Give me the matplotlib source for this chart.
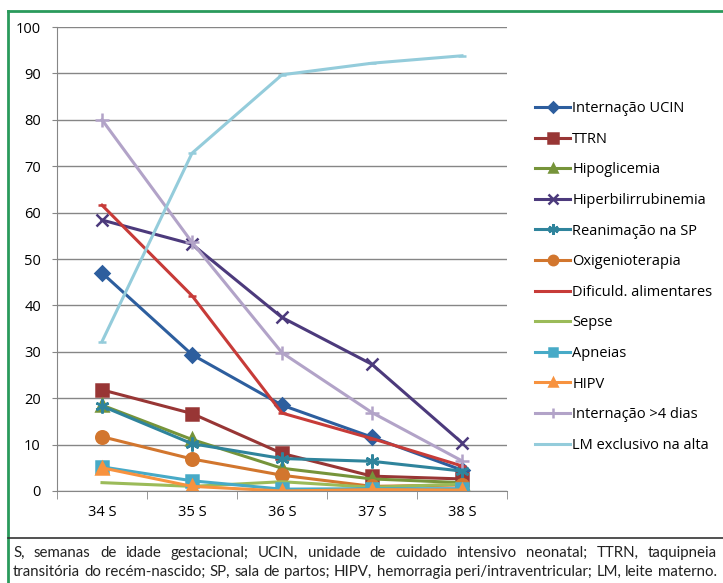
import matplotlib
matplotlib.use("Agg")
import matplotlib.pyplot as plt
from matplotlib.lines import Line2D

# Gestational weeks
weeks = ["34 S", "35 S", "36 S", "37 S", "38 S"]

internacao_ucin = [47.0, 29.4, 18.5, 11.6, 4.5]
ttrn = [21.8, 16.7, 8.1, 3.2, 2.6]
hipoglicemia = [18.5, 11.1, 4.9, 2.6, 1.8]
hiperbilirrubinemia = [58.4, 53.2, 37.4, 27.3, 10.4]
reanimacao_sp = [18.3, 10.2, 7.0, 6.4, 4.3]
oxigenioterapia = [11.7, 6.9, 3.4, 1.0, 1.3]
dificuld_alimentares = [61.6, 42.1, 16.8, 11.3, 5.4]
sepse = [1.8, 1.0, 2.0, 0.8, 1.5]
apneias = [5.2, 2.2, 0.4, 0.5, 0.5]
hipv = [5.0, 1.0, 0.0, 0.3, 0.2]
internacao_4dias = [80.0, 53.6, 29.8, 16.9, 6.5]
lm_exclusivo = [32.2, 72.8, 89.7, 92.2, 93.8]

series = [
    ("Internação UCIN", internacao_ucin, "#2D5E9E", "D", 7),
    ("TTRN", ttrn, "#983635", "s", 9),
    ("Hipoglicemia", hipoglicemia, "#76943A", "^", 8),
    ("Hiperbilirrubinemia", hiperbilirrubinemia, "#4C3A7C", "x", 9),
    ("Reanimação na SP", reanimacao_sp, "#2F849C", (6, 2, 0), 10),
    ("Oxigenioterapia", oxigenioterapia, "#D2762E", "o", 9),
    ("Dificuld. alimentares", dificuld_alimentares, "#C73B38", "_", 6),
    ("Sepse", sepse, "#9BBB59", None, 0),
    ("Apneias", apneias, "#47AAC7", "s", 8),
    ("HIPV", hipv, "#F7923F", "^", 8),
    ("Internação >4 dias", internacao_4dias, "#B2A3C8", "+", 10),
    ("LM exclusivo na alta", lm_exclusivo, "#94CCDB", "_", 6),
]

W, H = 723, 583
fig = plt.figure(figsize=(W / 100, H / 100), dpi=100)
ax = fig.add_axes([57 / W, 1 - 491 / H, 450 / W, 464 / H])

x = list(range(len(weeks)))
for name, vals, color, marker, ms in series:
    ax.plot(x, vals, color=color, lw=2.2, marker=marker, ms=ms,
            mec=color, mfc=color, mew=1.8, label=name)

ax.set_xlim(-0.5, 4.5)
ax.set_ylim(0, 100)
ax.set_yticks(range(0, 101, 10))
ax.set_xticks(x)
ax.set_xticklabels(weeks)
ax.set_xticks([i - 0.5 for i in range(6)], minor=True)
ax.tick_params(axis="x", which="major", length=0, pad=10, labelsize=10.5)
ax.tick_params(axis="x", which="minor", length=6, color="#868686", direction="out")
ax.tick_params(axis="y", length=3.6, color="#868686", pad=8, labelsize=10.5)
ax.grid(axis="y", color="#868686", lw=1)
ax.set_axisbelow(True)
for s in ["top", "right"]:
    ax.spines[s].set_visible(False)
ax.spines["left"].set_color("#868686")
ax.spines["bottom"].set_color("#868686")
for lab in ax.get_xticklabels() + ax.get_yticklabels():
    lab.set_family("Open Sans")

leg = ax.legend(loc="upper left", bbox_to_anchor=(522 / W, 1 - 88 / H),
                bbox_transform=fig.transFigure, frameon=False,
                prop={"family": "Open Sans", "size": 10.5},
                handlelength=2.4, handletextpad=0.15, labelspacing=1.07,
                markerscale=0.75)

# frame around chart and caption
green = "#2A9A5C"
fig.add_artist(Line2D([8 / W, 8 / W], [0, 1 - 11 / H], color=green, lw=2))
fig.add_artist(Line2D([8 / W, 1], [1 - 11 / H, 1 - 11 / H], color=green, lw=2))
fig.add_artist(Line2D([8 / W, 1], [1 - 538 / H, 1 - 538 / H], color="#333333", lw=1.2))

# justified caption
caption = [
    "S, semanas de idade gestacional; UCIN, unidade de cuidado intensivo neonatal; TTRN, taquipneia",
    "transitória do recém-nascido; SP, sala de partos; HIPV, hemorragia peri/intraventricular; LM, leite materno.",
]
fig.canvas.draw()
renderer = fig.canvas.get_renderer()
x0, x1 = 13, 717
for line, yp in zip(caption, [553, 572]):
    words = line.split(" ")
    texts = [fig.text(0, 1 - yp / H, w, fontsize=10.8, family="Lato",
                      color="#222222", va="center") for w in words]
    widths = [t.get_window_extent(renderer).width for t in texts]
    gap = (x1 - x0 - sum(widths)) / (len(words) - 1)
    pos = x0
    for t, w in zip(texts, widths):
        t.set_x(pos / W)
        pos += w + gap

fig.savefig("out.png", dpi=100)
